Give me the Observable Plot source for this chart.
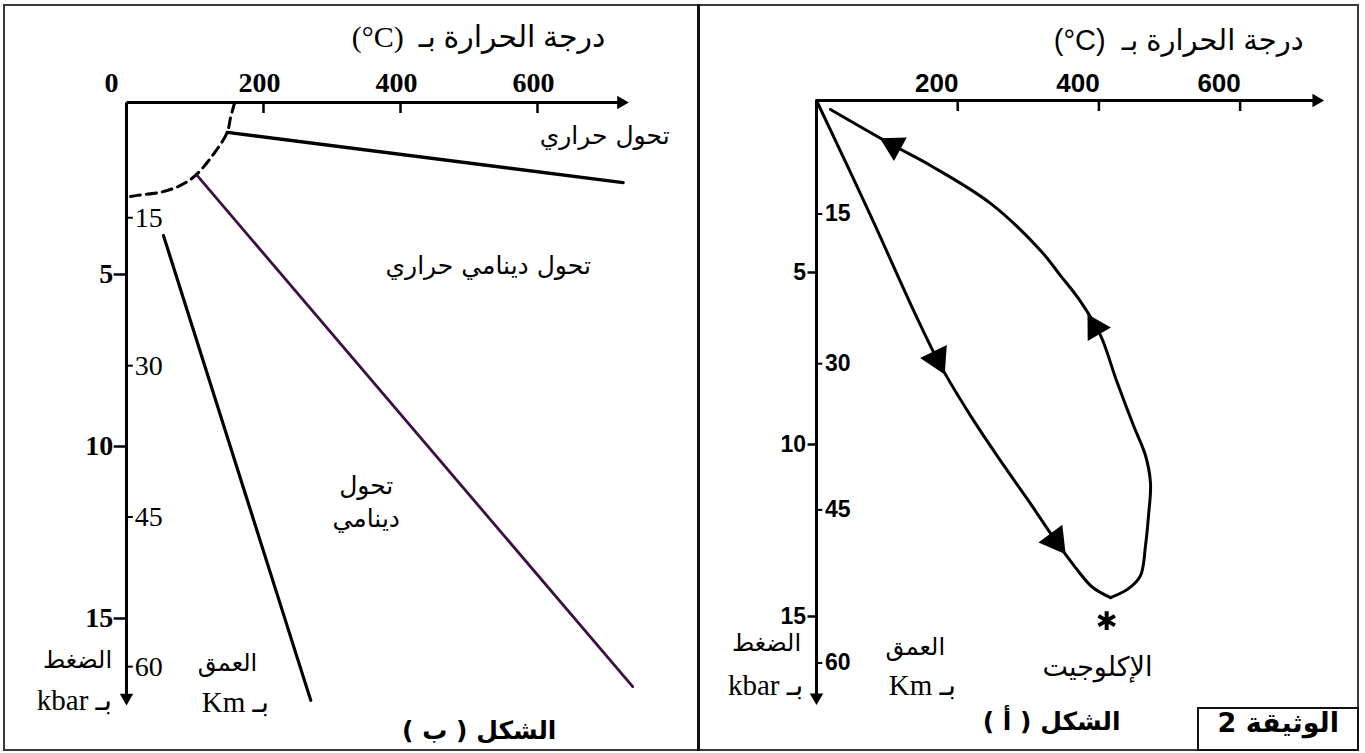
<!DOCTYPE html>
<html>
<head>
<meta charset="utf-8">
<script src="https://cdn.jsdelivr.net/npm/d3@7"></script>
<script src="https://cdn.jsdelivr.net/npm/@observablehq/plot@0.6"></script>
<style>
  html, body { margin: 0; padding: 0; background: #fff; }
  #wrap { position: relative; width: 1365px; height: 753px; overflow: hidden; background: #fff; }
  #wrap svg { position: absolute; top: 0; }
  .frame { position: absolute; left: 3px; top: 4px; width: 1356px; height: 747px; border: 2px solid #3a3a3a; box-sizing: border-box; }
  .divider { position: absolute; left: 697px; top: 4px; width: 3px; height: 747px; background: #111; }
  .docbox { position: absolute; left: 1197px; top: 707px; width: 162px; height: 44px; border: 2px solid #111; box-sizing: border-box; }
</style>
</head>
<body>
<div id="wrap"></div>
<script>
// ---------------- DATA ----------------
// temperature (°C) ticks and pressure (kbar) ticks
const leftTempLabels = [200, 400, 600];
const leftOriginLabel = [0];
const rightTempLabels = [200, 400, 600];
const kbarTicks = [5, 10, 15];
// depth (km) ticks placed at their pressure equivalent (kbar)
const depthLeft = [
  {km: 15, kbar: 3.35}, {km: 30, kbar: 7.65}, {km: 45, kbar: 12.05}, {km: 60, kbar: 16.4}
];
const depthRight = [
  {km: 15, kbar: 3.3}, {km: 30, kbar: 7.65}, {km: 45, kbar: 11.9}, {km: 60, kbar: 16.35}
];
// axis extents (arrows)
const leftAxes = [{t1: 0, p1: 0, t2: 722, p2: 0}, {t1: 0, p1: 0, t2: 0, p2: 17.3}];
const rightAxes = [{t1: 0, p1: 0, t2: 708, p2: 0}, {t1: 0, p1: 0, t2: 0, p2: 17.35}];

// Figure (ب) : metamorphism domains
const dashedBoundary = [
  {t: 158, p: 0}, {t: 152, p: 0.43}, {t: 147, p: 0.87}, {t: 127.5, p: 1.49}, {t: 100.7, p: 2.12},
  {t: 78.8, p: 2.41}, {t: 49.6, p: 2.61}, {t: 15.6, p: 2.7}, {t: 0, p: 2.75}
];
const thermalLine = [{t: 147, p: 0.87}, {t: 725, p: 2.33}];
const dynamothermalLine = [{t: 103, p: 2.12}, {t: 739, p: 16.98}];
const dynamicLine = [{t: 54, p: 3.87}, {t: 269, p: 17.38}];

// Figure (أ) : P-T path
const prograde = [
  {t: 0, p: 0}, {t: 76.5, p: 3.34}, {t: 137.4, p: 6.1}, {t: 175.6, p: 7.7}, {t: 218.1, p: 9.16},
  {t: 260.6, p: 10.47}, {t: 303.1, p: 11.72}, {t: 338.5, p: 12.79}, {t: 366.9, p: 13.58},
  {t: 390.9, p: 14.15}, {t: 416.4, p: 14.45}
];
const retrograde = [
  {t: 416.4, p: 14.45}, {t: 441.9, p: 14.19}, {t: 458.9, p: 13.81}, {t: 466, p: 12.94},
  {t: 470.3, p: 12.06}, {t: 473.1, p: 11.13}, {t: 466, p: 10.32}, {t: 449, p: 9.45},
  {t: 424.9, p: 8.14}, {t: 402.3, p: 6.83}, {t: 373.9, p: 5.84}, {t: 345.6, p: 5.09},
  {t: 317.3, p: 4.36}, {t: 246.5, p: 2.99}, {t: 161.5, p: 1.89}, {t: 109.1, p: 1.31}, {t: 19.8, p: 0.26}
];
const progradeArrows = [{t: 171, p: 7.52}, {t: 338.5, p: 12.79}];
const retrogradeArrows = [{t: 395, p: 6.6}, {t: 109.1, p: 1.31}];
const eclogitePoint = [{t: 411, p: 15.12}];

// text annotations (text + anchor in °C / kbar)
const leftTitle = [{text: "درجة الحرارة بـ  \u2066(°C)\u2069", t: 514, p: -1.89}];
const leftDomainNotes = [
  {text: "تحول حراري", t: 698, p: 0.9},
  {text: "تحول دينامي حراري", t: 528, p: 4.68},
  {text: "تحول\nدينامي", t: 350, p: 11.55}
];
const leftAxisNotesAr = [{text: "الضغط", t: -71.5, p: 16.22}, {text: "العمق", t: 147.5, p: 16.31}];
const leftAxisNotesUnit = [{text: "بـ kbar", t: -76, p: 17.38}, {text: "بـ Km", t: 159, p: 17.44}];
const leftFigure = [{text: "الشكل ( ب )", t: 515, p: 18.26}];

const rightTitle = [{text: "درجة الحرارة بـ  \u2066(°C)\u2069", t: 513, p: -1.74}];
const rightEclogite = [{text: "الإكلوجيت", t: 398, p: 16.48}];
const rightAxisNotesAr = [{text: "الضغط", t: -70.8, p: 15.78}, {text: "العمق", t: 140, p: 15.9}];
const rightAxisNotesUnit = [{text: "بـ kbar", t: -72, p: 17.0}, {text: "بـ Km", t: 150, p: 17.0}];
const rightFigure = [{text: "الشكل ( أ )", t: 333, p: 18.08}];
const docLabel = [{text: "الوثيقة 2", t: 654, p: 18.1}];

// ---------------- DRAWING ----------------
const H = 753;
const serif = "'Liberation Serif', 'Times New Roman', 'DejaVu Sans', serif";
const sans = "'Liberation Sans', Arial, 'DejaVu Sans', sans-serif";
const arab = "'DejaVu Sans', sans-serif";

function arrowAngles(path, pts, kx, ky) {
  return pts.map(pt => {
    let best = null, bd = Infinity;
    for (let i = 0; i < path.length - 1; i++) {
      const a = path[i], b = path[i + 1];
      const d = (((a.t + b.t) / 2 - pt.t) * kx) ** 2 + (((a.p + b.p) / 2 - pt.p) * ky) ** 2;
      if (d < bd) { bd = d; best = [a, b]; }
    }
    const dx = (best[1].t - best[0].t) * kx, dy = (best[1].p - best[0].p) * ky;
    return {...pt, angle: Math.atan2(dx, -dy) * 180 / Math.PI};
  });
}
function axisHeads(axes, kx, ky) {
  return axes.map(a => ({t: a.t2, p: a.p2, angle: Math.atan2((a.t2 - a.t1) * kx, -(a.p2 - a.p1) * ky) * 180 / Math.PI}));
}

const L = {width: 697, mL: 126, mR: 23, mT: 102, mB: 31.8, xMax: 800};
const R = {width: 668, mL: 119, mR: 19.5, mT: 100, mB: 33.8, xMax: 750};
const kxL = (L.width - L.mL - L.mR) / L.xMax, kyL = (H - L.mT - L.mB) / 18;
const kxR = (R.width - R.mL - R.mR) / R.xMax, kyR = (H - R.mT - R.mB) / 18;

const left = Plot.plot({
  width: L.width, height: H,
  marginLeft: L.mL, marginRight: L.mR, marginTop: L.mT, marginBottom: L.mB,
  x: {domain: [0, L.xMax], axis: null},
  y: {domain: [0, 18], reverse: true, axis: null},
  style: {overflow: "visible", background: "transparent"},
  marks: [
    Plot.link(leftAxes, {x1: "t1", y1: "p1", x2: "t2", y2: "p2", stroke: "black", strokeWidth: 3}),
    Plot.dot(axisHeads(leftAxes, kxL, kyL), {x: "t", y: "p", symbol: "triangle", r: 5, rotate: "angle", fill: "black", stroke: "none"}),
    Plot.ruleX(leftTempLabels, {x: d => d, y1: 0, y2: 0.32, stroke: "black", strokeWidth: 2.5}),
    Plot.text(leftTempLabels, {x: d => d, y: 0, dy: -19, dx: -4, text: d => String(d), fontFamily: serif, fontWeight: "bold", fontSize: 28, fill: "black"}),
    Plot.text(leftOriginLabel, {x: d => d, y: 0, dy: -19, dx: -15, text: d => String(d), fontFamily: serif, fontWeight: "bold", fontSize: 28, fill: "black"}),
    Plot.ruleY(kbarTicks, {y: d => d, x1: -18, x2: 0, stroke: "black", strokeWidth: 2.5}),
    Plot.text(kbarTicks, {y: d => d, x: -18, dx: -1, textAnchor: "end", text: d => String(d), fontFamily: serif, fontWeight: "bold", fontSize: 28, fill: "black"}),
    Plot.ruleY(depthLeft, {y: "kbar", x1: 0, x2: 10, stroke: "black", strokeWidth: 2}),
    Plot.text(depthLeft, {y: "kbar", x: 12, textAnchor: "start", text: d => String(d.km), fontFamily: serif, fontSize: 28, fill: "black"}),
    Plot.line(dashedBoundary, {x: "t", y: "p", curve: "catmull-rom", stroke: "black", strokeWidth: 3, strokeDasharray: "10,6"}),
    Plot.line(thermalLine, {x: "t", y: "p", stroke: "black", strokeWidth: 3.4}),
    Plot.line(dynamothermalLine, {x: "t", y: "p", stroke: "#3d0f3e", strokeWidth: 2.8}),
    Plot.line(dynamicLine, {x: "t", y: "p", stroke: "black", strokeWidth: 3.2}),
    Plot.text(leftTitle, {x: "t", y: "p", text: "text", fontFamily: serif, fontSize: 30, fill: "black"}),
    Plot.text(leftDomainNotes, {x: "t", y: "p", text: "text", fontFamily: arab, fontSize: 25, lineHeight: 1.35, fill: "black"}),
    Plot.text(leftAxisNotesAr, {x: "t", y: "p", text: "text", fontFamily: arab, fontSize: 24, fill: "black"}),
    Plot.text(leftAxisNotesUnit, {x: "t", y: "p", text: "text", fontFamily: serif, fontSize: 29, fill: "black"}),
    Plot.text(leftFigure, {x: "t", y: "p", text: "text", fontFamily: arab, fontWeight: "bold", fontSize: 25, fill: "black"})
  ]
});

const right = Plot.plot({
  width: R.width, height: H,
  marginLeft: R.mL, marginRight: R.mR, marginTop: R.mT, marginBottom: R.mB,
  x: {domain: [0, R.xMax], axis: null},
  y: {domain: [0, 18], reverse: true, axis: null},
  style: {overflow: "visible", background: "transparent"},
  marks: [
    Plot.link(rightAxes, {x1: "t1", y1: "p1", x2: "t2", y2: "p2", stroke: "black", strokeWidth: 3}),
    Plot.dot(axisHeads(rightAxes, kxR, kyR), {x: "t", y: "p", symbol: "triangle", r: 5, rotate: "angle", fill: "black", stroke: "none"}),
    Plot.ruleX(rightTempLabels, {x: d => d, y1: 0, y2: 0.32, stroke: "black", strokeWidth: 2.5}),
    Plot.text(rightTempLabels, {x: d => d, y: 0, dy: -17, dx: -21, text: d => String(d), fontFamily: sans, fontWeight: "bold", fontSize: 26, fill: "black"}),
    Plot.ruleY(kbarTicks, {y: d => d, x1: -12, x2: 0, stroke: "black", strokeWidth: 2.5}),
    Plot.text(kbarTicks, {y: d => d, x: -12, dx: -2, textAnchor: "end", text: d => String(d), fontFamily: sans, fontWeight: "bold", fontSize: 23, fill: "black"}),
    Plot.ruleY(depthRight, {y: "kbar", x1: 0, x2: 9, stroke: "black", strokeWidth: 2}),
    Plot.text(depthRight, {y: "kbar", x: 12, textAnchor: "start", text: d => String(d.km), fontFamily: sans, fontWeight: "bold", fontSize: 23, fill: "black"}),
    Plot.line(prograde, {x: "t", y: "p", curve: "catmull-rom", stroke: "black", strokeWidth: 3}),
    Plot.line(retrograde, {x: "t", y: "p", curve: "catmull-rom", stroke: "black", strokeWidth: 3}),
    Plot.dot(arrowAngles(prograde, progradeArrows, kxR, kyR), {x: "t", y: "p", symbol: "triangle", r: 11, rotate: "angle", fill: "black", stroke: "none"}),
    Plot.dot(arrowAngles(retrograde, retrogradeArrows, kxR, kyR), {x: "t", y: "p", symbol: "triangle", r: 10, rotate: "angle", fill: "black", stroke: "none"}),
    Plot.dot(eclogitePoint, {x: "t", y: "p", symbol: "asterisk", r: 9, stroke: "black", strokeWidth: 4}),
    Plot.text(rightTitle, {x: "t", y: "p", text: "text", fontFamily: sans, fontSize: 29, fill: "black"}),
    Plot.text(rightEclogite, {x: "t", y: "p", text: "text", fontFamily: arab, fontSize: 27, fill: "black"}),
    Plot.text(rightAxisNotesAr, {x: "t", y: "p", text: "text", fontFamily: arab, fontSize: 24, fill: "black"}),
    Plot.text(rightAxisNotesUnit, {x: "t", y: "p", text: "text", fontFamily: serif, fontSize: 29, fill: "black"}),
    Plot.text(rightFigure, {x: "t", y: "p", text: "text", fontFamily: arab, fontWeight: "bold", fontSize: 25, fill: "black"}),
    Plot.text(docLabel, {x: "t", y: "p", text: "text", fontFamily: arab, fontWeight: "bold", fontSize: 27, fill: "black"})
  ]
});

// right-to-left base direction for Arabic labels
for (const svg of [left, right]) {
  svg.querySelectorAll("text").forEach(t => {
    if (/[\u0600-\u06FF]/.test(t.textContent)) {
      t.setAttribute("direction", "rtl");
      t.style.direction = "rtl";
      t.style.unicodeBidi = "embed";
    }
  });
}

const wrap = document.getElementById("wrap");
left.style.left = "0px";
right.style.left = "697px";
wrap.appendChild(left);
wrap.appendChild(right);
for (const cls of ["frame", "divider", "docbox"]) {
  const d = document.createElement("div");
  d.className = cls;
  wrap.appendChild(d);
}
</script>
</body>
</html>
